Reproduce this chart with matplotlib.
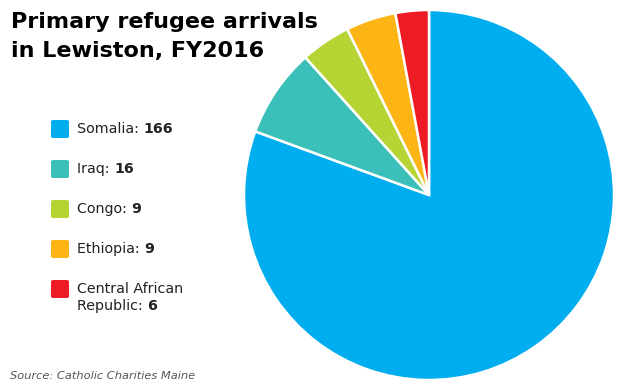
import matplotlib
matplotlib.use("Agg")
import matplotlib.pyplot as plt
from matplotlib.patches import FancyBboxPatch

countries = ["Somalia", "Iraq", "Congo", "Ethiopia", "Central African\nRepublic"]
arrivals = [166, 16, 9, 9, 6]
colors = ["#00AEEF", "#3BC0B9", "#B6D433", "#FDB515", "#ED1C24"]

W, H = 624, 390
fig = plt.figure(figsize=(W / 100, H / 100), dpi=100)
plt.rcParams["font.family"] = ["DejaVu Sans"]

def fx(px):
    return px / W

def fy(py):
    return 1 - py / H

# pie, center ~(429,195) px, radius ~185 px
r = 185
ax = fig.add_axes([fx(429 - r), fy(195 + r), 2 * r / W, 2 * r / H])
ax.pie(arrivals, colors=colors, startangle=90, counterclock=False,
       wedgeprops=dict(edgecolor="white", linewidth=1.8))
ax.set_aspect("equal")
ax.set_xlim(-1, 1)
ax.set_ylim(-1, 1)
ax.axis("off")

# title
fig.text(fx(11), fy(28), "Primary refugee arrivals", fontsize=16,
         fontweight="bold", va="baseline", ha="left")
fig.text(fx(11), fy(57), "in Lewiston, FY2016", fontsize=16,
         fontweight="bold", va="baseline", ha="left")

# legend
for i, (name, n, c) in enumerate(zip(countries, arrivals, colors)):
    yc = 129 + 40 * i
    box = FancyBboxPatch((fx(51), fy(yc + 9)), fx(18), 18 / H,
                         boxstyle="round,pad=0.0,rounding_size=0.004",
                         transform=fig.transFigure, facecolor=c,
                         edgecolor="none")
    fig.patches.append(box)
    lines = name.split("\n")
    for j, ln in enumerate(lines):
        s = ln + (": " if j == len(lines) - 1 else "")
        t = fig.text(fx(77), fy(yc + 17 * j), s, fontsize=10.3,
                     color="#222222", va="center", ha="left")
    fig.canvas.draw()
    ax.annotate(str(n), xy=(1, 0.5), xycoords=t, fontsize=10.3,
                fontweight="bold", color="#222222", va="center", ha="left",
                annotation_clip=False)

fig.text(fx(10), fy(376), "Source: Catholic Charities Maine", fontsize=8.2,
         style="italic", color="#555555", va="center", ha="left")

fig.savefig("out.png", dpi=100)
